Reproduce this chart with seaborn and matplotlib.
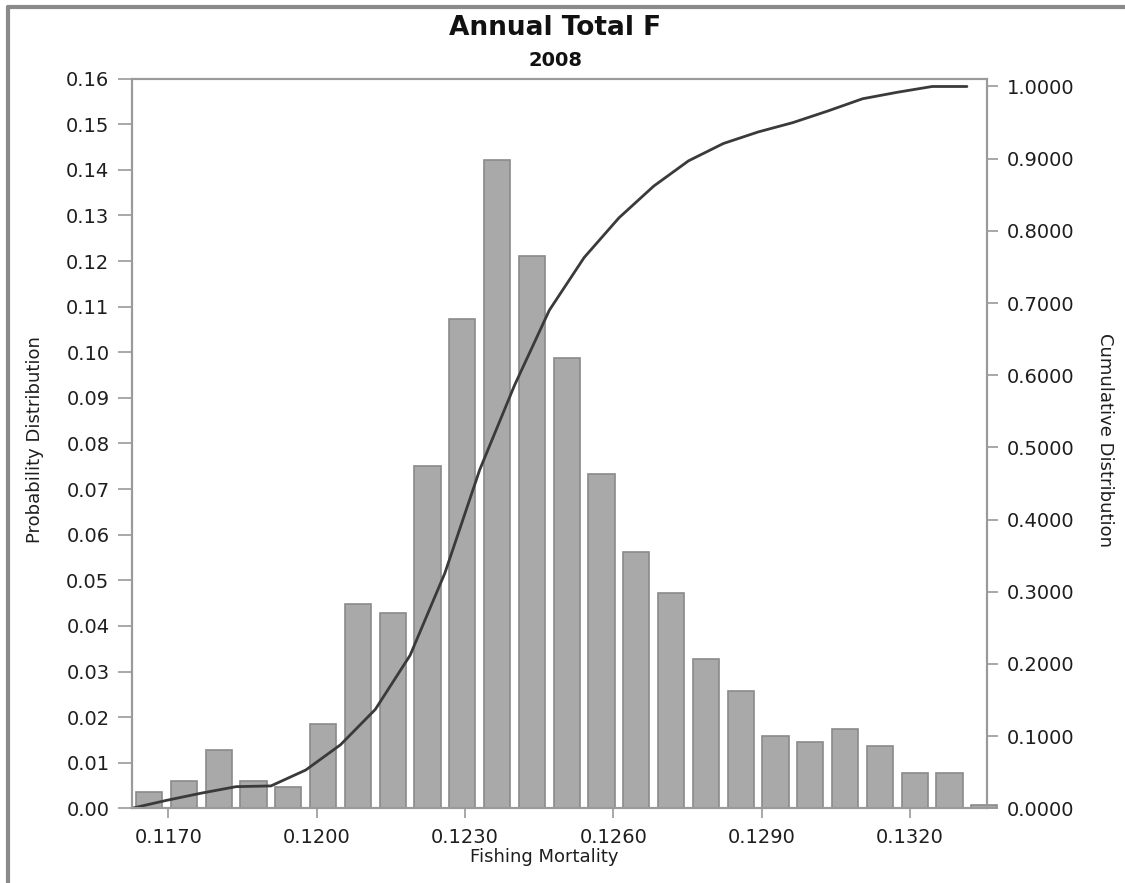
import numpy as np
import pandas as pd
import matplotlib
matplotlib.use("Agg")
import matplotlib.pyplot as plt
import seaborn as sns
from matplotlib.lines import Line2D
from matplotlib.ticker import FormatStrFormatter

# ---------------- data ----------------
bin_centers = [0.116610, 0.117314, 0.118018, 0.118722, 0.119426, 0.120130,
               0.120834, 0.121538, 0.122242, 0.122946, 0.123650, 0.124354,
               0.125058, 0.125762, 0.126466, 0.127170, 0.127874, 0.128578,
               0.129282, 0.129986, 0.130690, 0.131394, 0.132098, 0.132802,
               0.133506]
probability = [0.0036, 0.0060, 0.0128, 0.0060, 0.0046, 0.0185,
               0.0448, 0.0428, 0.0751, 0.1072, 0.1422, 0.1211,
               0.0988, 0.0733, 0.0562, 0.0472, 0.0328, 0.0257,
               0.0159, 0.0146, 0.0175, 0.0137, 0.0078, 0.0078,
               0.0007]

cum_x = [0.116258, 0.116962, 0.117666, 0.118370, 0.119074, 0.119778,
         0.120482, 0.121186, 0.121890, 0.122594, 0.123298, 0.124002,
         0.124706, 0.125410, 0.126114, 0.126818, 0.127522, 0.128226,
         0.128930, 0.129634, 0.130338, 0.131042, 0.131746, 0.132450,
         0.133154]
cumulative = [0.000, 0.011, 0.021, 0.030, 0.031, 0.053,
              0.088, 0.137, 0.212, 0.326, 0.469, 0.586,
              0.690, 0.763, 0.818, 0.862, 0.897, 0.921,
              0.937, 0.950, 0.966, 0.983, 0.992, 1.000,
              1.000]

x_ticks = [0.1170, 0.1200, 0.1230, 0.1260, 0.1290, 0.1320]
left_ticks = [0.00, 0.01, 0.02, 0.03, 0.04, 0.05, 0.06, 0.07, 0.08,
              0.09, 0.10, 0.11, 0.12, 0.13, 0.14, 0.15, 0.16]
right_ticks = [0.0, 0.1, 0.2, 0.3, 0.4, 0.5, 0.6, 0.7, 0.8, 0.9, 1.0]

title = "Annual Total F"
subtitle = "2008"
x_label = "Fishing Mortality"
left_label = "Probability Distribution"
right_label = "Cumulative Distribution"

# ---------------- style ----------------
sns.set_style("white")
plt.rcParams["font.family"] = ["DejaVu Sans"]

W, H = 1125, 883
fig = plt.figure(figsize=(W / 100, H / 100), dpi=100)
ax = fig.add_axes([131.7 / W, 1 - 808.3 / H, (987 - 131.7) / W, (808.3 - 78.7) / H])

spine_col = "#9a9a9a"
text_col = "#1e1e1e"

df = pd.DataFrame({"F": bin_centers, "p": probability})
sns.barplot(data=df, x="F", y="p", native_scale=True, width=0.75,
            color="#a9a9a9", edgecolor="#8a8a8a", linewidth=1.2,
            saturation=1, errorbar=None, ax=ax)
ax.patches[-1].set_clip_on(False)

ax.set_ylim(0, 0.16)
ax.set_yticks(left_ticks)
ax.yaxis.set_major_formatter(FormatStrFormatter("%.2f"))
ax.set_xticks(x_ticks)
ax.xaxis.set_major_formatter(FormatStrFormatter("%.4f"))
ax.tick_params(axis="x", bottom=True, direction="out", length=7, width=1.2,
               color=spine_col, pad=7, labelsize=14, labelcolor=text_col)
ax.tick_params(axis="y", left=True, direction="out", length=10, width=1.2,
               color=spine_col, pad=6, labelsize=14, labelcolor=text_col)

ax2 = ax.twinx()
sns.lineplot(x=cum_x, y=cumulative, ax=ax2, color="#3a3a3a", linewidth=2.0)
ax2.set_ylim(0, 1.0108)
ax2.set_yticks(right_ticks)
ax2.yaxis.set_major_formatter(FormatStrFormatter("%.4f"))
ax2.tick_params(axis="y", right=True, direction="out", length=8, width=1.2,
                color=spine_col, pad=6, labelsize=14, labelcolor=text_col)

ax.set_xlim(0.116258, 0.13356)
ax2.set_xlim(0.116258, 0.13356)

for a in (ax, ax2):
    for s in a.spines.values():
        s.set_color(spine_col)
        s.set_linewidth(1.5)
        s.set_visible(True)

ax.set_xlabel(x_label, fontsize=13, color=text_col)
ax.xaxis.label.set_va("center")
ax.xaxis.set_label_coords(0.482, -0.067)

ax.set_ylabel(left_label, fontsize=13, color=text_col)
ax.yaxis.label.set_va("center")
ax.yaxis.label.set_ha("center")
ax.yaxis.set_label_coords(-0.113, 0.505)

ax2.set_ylabel(right_label, fontsize=13, color=text_col, rotation=270)
ax2.yaxis.label.set_va("center")
ax2.yaxis.label.set_ha("center")
ax2.yaxis.set_label_coords(1.138, 0.505)

fig.text(555.5 / W, 1 - 28 / H, title, ha="center", va="center",
         fontsize=19, fontweight="bold", color="#111111")
fig.text(555.5 / W, 1 - 60 / H, subtitle, ha="center", va="center",
         fontsize=14, fontweight="bold", color="#111111")

# outer window frame (left and top edges)
fig.add_artist(Line2D([8 / W, 8 / W], [0, 1 - 7 / H], transform=fig.transFigure,
                      color="#8a8a8a", linewidth=3))
fig.add_artist(Line2D([8 / W, 1], [1 - 7 / H, 1 - 7 / H], transform=fig.transFigure,
                      color="#8a8a8a", linewidth=3))

fig.savefig("out.png", dpi=100)
